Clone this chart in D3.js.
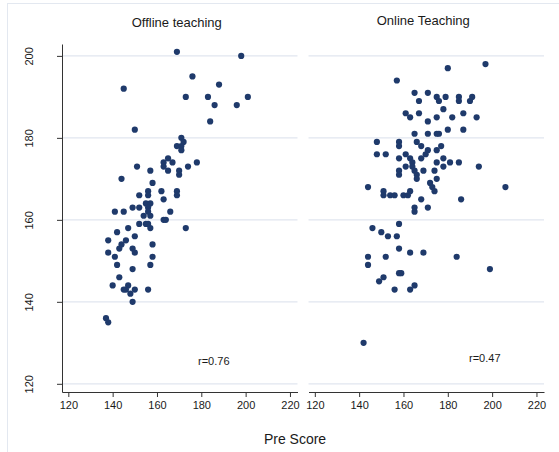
<head>
    <script src="https://d3js.org/d3.v7.min.js"></script>
    <style>
        body { margin: 0; background: #fff; }
        svg text { font-family: "Liberation Sans", Arial, sans-serif; fill: #1a1a1a; }
        .axis path, .axis line { stroke: #333; }
    </style>
</head>

<body>
    <svg id="plot" width="559" height="452"></svg>
    <script>
        // data
        const offlineX = [169,198,145,176,188,173,183,201,186,196,184,150,171,172,169,171,171,165,163,167,163,165,151,174,178,157,170,170,144,158,162,169,169,156,156,152,163,155,157,156,149,152,141,145,166,154,157,156,163,164,173,152,155,156,157,147,142,150,138,146,144,143,158,149,150,138,141,158,142,157,149,143,140,147,146,145,148,150,156,149,137,138];
        const offlineY = [201,200,192,195,193,190,190,190,188,188,184,182,180,179,178,178,177,175,174,174,173,172,173,173,174,172,172,171,170,169,167,167,166,167,166,166,165,164,164,163,163,163,162,162,162,161,161,162,160,160,158,159,159,159,158,158,157,156,155,155,154,153,154,153,152,152,151,151,149,149,148,146,144,144,143,143,142,143,143,140,136,135];

        const onlineX = [197,180,157,165,171,167,175,176,179,185,185,191,190,178,161,163,167,175,182,187,193,171,165,171,175,176,180,187,148,158,158,166,168,177,175,171,170,148,152,161,158,163,164,164,165,166,166,168,178,175,181,185,178,161,194,169,174,158,158,175,144,206,173,172,174,151,151,154,156,160,162,163,168,186,171,165,165,158,146,150,153,157,158,144,152,163,169,184,144,199,158,159,149,151,156,163,165,142];
        const onlineY = [198,197,194,191,191,189,190,189,190,190,189,190,189,187,186,185,186,185,185,186,185,184,181,181,181,181,182,182,179,179,178,179,178,178,177,177,176,176,176,176,175,175,174,173,172,171,170,175,175,174,174,174,173,173,173,172,172,172,171,170,168,168,168,169,167,167,166,166,166,166,166,167,165,165,163,163,162,159,158,157,156,156,153,151,151,152,152,151,149,148,147,147,145,146,143,143,144,130];

        const panelTitles = ["Offline teaching", "Online Teaching"];
        const rLabels = ["r=0.76", "r=0.47"];
        const xTicks = [120, 140, 160, 180, 200, 220];
        const yTicks = [120, 140, 160, 180, 200];

        const svg = d3.select("svg#plot");

        // outer frame
        svg.append("rect")
            .attr("x", 7.5).attr("y", 3.5)
            .attr("width", 600).attr("height", 500)
            .attr("fill", "none")
            .attr("stroke", "#e3e8f0");

        const y = d3.scaleLinear().domain([118, 202.9]).range([392, 44]);

        const panels = [
            {title: panelTitles[0], r: rLabels[0], xs: offlineX, ys: offlineY, left: 62, titleY: 27, rPos: [198, 365], rY: 0},
            {title: panelTitles[1], r: rLabels[1], xs: onlineX, ys: onlineY, left: 308.5, titleY: 24.5, rPos: [469, 362]}
        ];
        const plotW = 235.5;

        panels.forEach((p, i) => {
            const x = d3.scaleLinear().domain([117.15, 223.4]).range([p.left, p.left + plotW]);
            const g = svg.append("g");

            //gridlines
            g.selectAll("line.grid")
                .data(yTicks)
                .enter()
                .append("line")
                .attr("class", "grid")
                .attr("x1", p.left).attr("x2", p.left + plotW)
                .attr("y1", d => y(d)).attr("y2", d => y(d))
                .attr("stroke", "#e1e6ef")
                .attr("stroke-width", 1.2);

            //x axis
            const xAxis = g.append("g")
                .attr("class", "axis")
                .attr("transform", "translate(0,392)")
                .call(d3.axisBottom(x).tickValues(xTicks).tickSize(5).tickSizeOuter(0).tickPadding(4));
            xAxis.selectAll("text").style("font-size", "11px");

            //y axis only on the first panel
            if (i === 0) {
                const yAxis = g.append("g")
                    .attr("class", "axis")
                    .attr("transform", `translate(${p.left},0)`)
                    .call(d3.axisLeft(y).tickValues(yTicks).tickSize(5).tickSizeOuter(0));
                yAxis.selectAll("text")
                    .attr("x", 0).attr("dy", null)
                    .attr("text-anchor", "middle")
                    .attr("transform", "translate(-29,0) rotate(-90)")
                    .style("font-size", "11px");
            }

            //points
            g.selectAll("circle")
                .data(p.xs.map((v, j) => [v, p.ys[j]]))
                .enter()
                .append("circle")
                .attr("cx", d => x(d[0]))
                .attr("cy", d => y(d[1]))
                .attr("r", 3.1)
                .attr("fill", "#1f3a6b");

            g.append("text")
                .attr("x", p.left + plotW / 2 - 3)
                .attr("y", p.titleY)
                .attr("text-anchor", "middle")
                .style("font-size", "13px")
                .text(p.title);

            g.append("text")
                .attr("x", p.rPos[0])
                .attr("y", p.rPos[1])
                .style("font-size", "11px")
                .text(p.r);
        });

        svg.append("text")
            .attr("x", 295)
            .attr("y", 444)
            .attr("text-anchor", "middle")
            .style("font-size", "14px")
            .text("Pre Score");
    </script>
</body>
